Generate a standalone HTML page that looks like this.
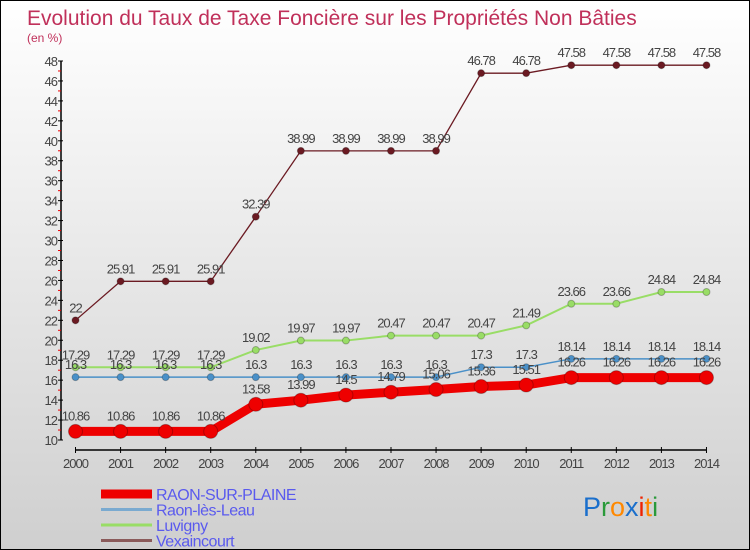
<!DOCTYPE html>
<html><head><meta charset="utf-8">
<style>
body{margin:0;}
#c{width:748px;height:548px;border:1px solid #000;background:linear-gradient(#ffffff,#cfcfcf);position:relative;overflow:hidden;font-family:"Liberation Sans",sans-serif;}
</style></head>
<body>
<div id="c">
<svg id="s" width="748" height="548"></svg>
</div>
<script>
const years=["2000","2001","2002","2003","2004","2005","2006","2007","2008","2009","2010","2011","2012","2013","2014"];
const raon=[10.86,10.86,10.86,10.86,13.58,13.99,14.5,14.79,15.06,15.36,15.51,16.26,16.26,16.26,16.26];
const leau=[16.3,16.3,16.3,16.3,16.3,16.3,16.3,16.3,16.3,17.3,17.3,18.14,18.14,18.14,18.14];
const luvigny=[17.29,17.29,17.29,17.29,19.02,19.97,19.97,20.47,20.47,20.47,21.49,23.66,23.66,24.84,24.84];
const vexa=[22,25.91,25.91,25.91,32.39,38.99,38.99,38.99,38.99,46.78,46.78,47.58,47.58,47.58,47.58];
const yTicks=[10,12,14,16,18,20,22,24,26,28,30,32,34,36,38,40,42,44,46,48];
const NS="http://www.w3.org/2000/svg";
const s=document.getElementById('s');
function sx(i){return 74.5+i*45.07;}
function sy(v){return 439-(v-10)*(379/38);}
function mk(t,a,p){const e=document.createElementNS(NS,t);for(const k in a)e.setAttribute(k,a[k]);(p||s).appendChild(e);return e;}
let t=mk('text',{x:26,y:24,'font-size':21,fill:'#c0305a'});t.textContent="Evolution du Taux de Taxe Foncière sur les Propriétés Non Bâties";

t=mk('text',{x:26,y:41,'font-size':12,fill:'#c0305a'});t.textContent="(en %)";

let ax=mk('line',{x1:60,y1:sy(48),x2:60,y2:sy(10),stroke:'#000','stroke-width':1.5});

yTicks.forEach(v=>{
 mk('line',{x1:57,y1:sy(v),x2:62,y2:sy(v),stroke:'#000'});
 if(v<48)mk('line',{x1:57,y1:sy(v+1),x2:60,y2:sy(v+1),stroke:'#e00'});
 const l=mk('text',{x:56,y:sy(v)+5,'font-size':13,fill:'#444','text-anchor':'end','letter-spacing':'-1'});l.textContent=v;
 
});
ax=mk('line',{x1:sx(0),y1:449,x2:sx(14),y2:449,stroke:'#000','stroke-width':1.5});

years.forEach((y,i)=>{
 mk('line',{x1:sx(i),y1:446,x2:sx(i),y2:452,stroke:'#000'});
 const l=mk('text',{x:sx(i),y:467,'font-size':13,fill:'#444','text-anchor':'middle','letter-spacing':'-1'});l.textContent=y;
 
});
function series(arr,color,lw,r,name,off){
 const g=mk('g',{});
 const pts=arr.map((v,i)=>sx(i)+','+sy(v)).join(' ');
 mk('polyline',{points:pts,fill:'none',stroke:color,'stroke-width':lw},g);
 arr.forEach((v,i)=>{
  const c=mk('circle',{cx:sx(i),cy:sy(v),r:r,fill:color,stroke:'rgba(0,0,0,0.25)'},g);
  
  const l=mk('text',{x:sx(i),y:sy(v)-off,'font-size':13,fill:'#444','text-anchor':'middle','letter-spacing':'-1'},g);l.textContent=v;
 });
}
series(vexa,'#6b1a22',1.3,3.5,'vexaincourt-series',8);
series(luvigny,'#99dd66',2,3.5,'luvigny-series',8);
series(leau,'#4a90c8',1.5,3.5,'raon-les-leau-series',8);
series(raon,'#ee0000',9,7,'raon-sur-plaine-series',11);
const leg=[["RAON-SUR-PLAINE",'#ee0000',9],["Raon-lès-Leau",'#7aaad0',3],["Luvigny",'#99dd66',3],["Vexaincourt",'#8a5a5a',3]];
leg.forEach((d,i)=>{
 const y=493+i*15.5;
 const g=mk('g',{});
 mk('line',{x1:100,y1:y,x2:151,y2:y,stroke:d[1],'stroke-width':d[2]},g);
 const l=mk('text',{x:155,y:y+6,'font-size':16,fill:'#5a5aee','letter-spacing':'-0.5'},g);l.textContent=d[0];
});
const lg=mk('text',{x:582,y:515,'font-size':27});

[["P","#1a6fcc"],["r","#2a9a3a"],["o","#ff8800"],["x","#1a6fcc"],["i","#ee2200"],["t","#ff8800"],["i","#2a9a3a"]].forEach(c=>{const ts=mk('tspan',{fill:c[1]},lg);ts.textContent=c[0];});
</script>
</body></html>
